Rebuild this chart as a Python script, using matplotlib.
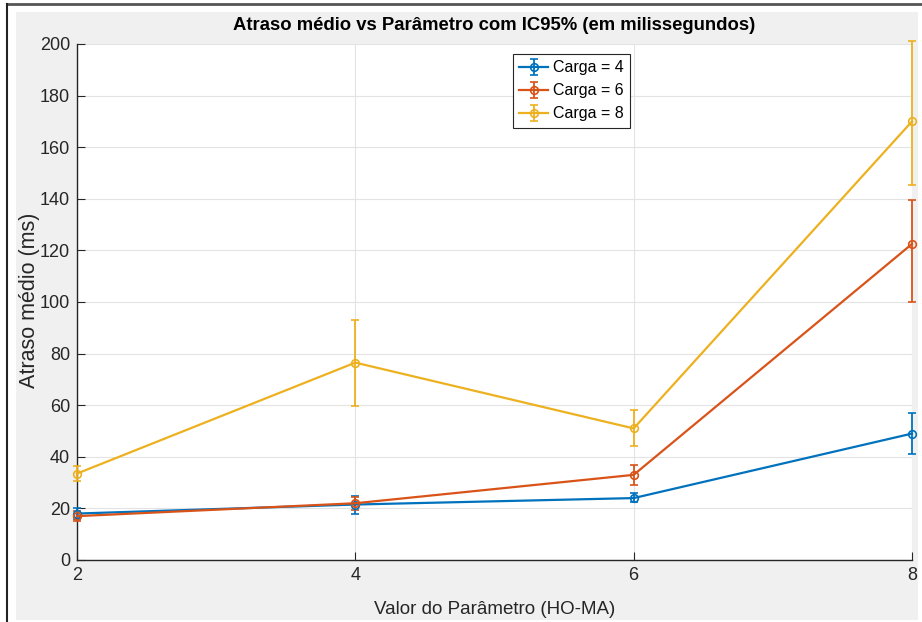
import matplotlib
matplotlib.use("Agg")
import matplotlib.pyplot as plt
from matplotlib.patches import Rectangle
import numpy as np

plt.rcParams['font.family'] = ['Liberation Sans Narrow', 'Liberation Sans', 'DejaVu Sans']

params = [2, 4, 6, 8]
labels = ['Carga = 4', 'Carga = 6', 'Carga = 8']
means = [
    [18.0, 21.5, 24.0, 49.0],
    [17.0, 22.0, 33.0, 122.5],
    [33.5, 76.5, 51.0, 170.0],
]
lower = [
    [16.0, 18.0, 22.5, 41.0],
    [15.0, 19.5, 29.0, 100.0],
    [30.5, 59.5, 44.0, 145.5],
]
upper = [
    [20.0, 25.0, 26.0, 57.0],
    [19.0, 24.5, 37.0, 139.5],
    [36.5, 93.0, 58.0, 201.0],
]
colors = ['#0072BD', '#D95319', '#EDB120']

W, H = 922, 622
fig = plt.figure(figsize=(W/100, H/100), dpi=100, facecolor='white')

# gray window background + border (background axes)
bg = fig.add_axes([0, 0, 1, 1], zorder=-10)
bg.set_xlim(0, W); bg.set_ylim(H, 0); bg.axis('off')
bg.add_patch(Rectangle((16, 12), 918-16, 620-12, facecolor='#f0f0f0', edgecolor='none'))
bg.plot([7, W], [4, 4], color='#555555', lw=2)
bg.plot([7, 7], [4, H], color='#222222', lw=1.5)

ax = fig.add_axes([77/W, 1 - 560/H, (912-77)/W, (560-44)/H])
ax.set_facecolor('white')

for m, lo, up, c, lab in zip(means, lower, upper, colors, labels):
    m = np.array(m); lo = np.array(lo); up = np.array(up)
    yerr = np.vstack([m - lo, up - m])
    eb = ax.errorbar(params, m, yerr=yerr, color=c, lw=1.6, marker='o',
                     markersize=5.5, markerfacecolor='none', markeredgewidth=1.2,
                     capsize=3, capthick=1.3, elinewidth=1.3, label=lab, zorder=3)
    for art in list(eb.lines[1]) + list(eb.lines[2]):
        art.set_clip_on(False)
    eb.lines[0].set_clip_on(False)

ax.set_xlim(2, 8)
ax.set_ylim(0, 200)
ax.set_xticks([2, 4, 6, 8])
ax.set_yticks(np.arange(0, 201, 20))
ax.grid(True, color='#e3e3e3', lw=0.8)
ax.set_axisbelow(True)
for s in ['top', 'right']:
    ax.spines[s].set_visible(False)
for s in ['left', 'bottom']:
    ax.spines[s].set_color('#262626')
    ax.spines[s].set_linewidth(1.0)
ax.tick_params(direction='in', length=6, width=0.8, color='#262626',
               labelsize=13, labelcolor='#262626', pad=5)

ax.set_title('Atraso médio vs Parâmetro com IC95% (em milissegundos)',
             fontsize=13.3, fontweight='bold', color='black', pad=10)
ax.set_ylabel('Atraso médio (ms)', fontsize=15.5, color='#262626')
ax.yaxis.set_label_coords((40 - 77) / (912 - 77), (560 - 300) / (560 - 44))
ax.set_xlabel('Valor do Parâmetro (HO-MA)', fontsize=13.5, color='#262626', labelpad=12)

leg = ax.legend(loc='upper left', bbox_to_anchor=((513-77)/(912-77), 1 - (54-44)/(560-44)),
                fontsize=11.5, frameon=True, fancybox=False, framealpha=1,
                edgecolor='#262626', borderpad=0.4, handlelength=1.8,
                handletextpad=0.3, labelspacing=0.5, borderaxespad=0)
leg.get_frame().set_linewidth(0.8)

fig.savefig('out.png', dpi=100, facecolor='white')
